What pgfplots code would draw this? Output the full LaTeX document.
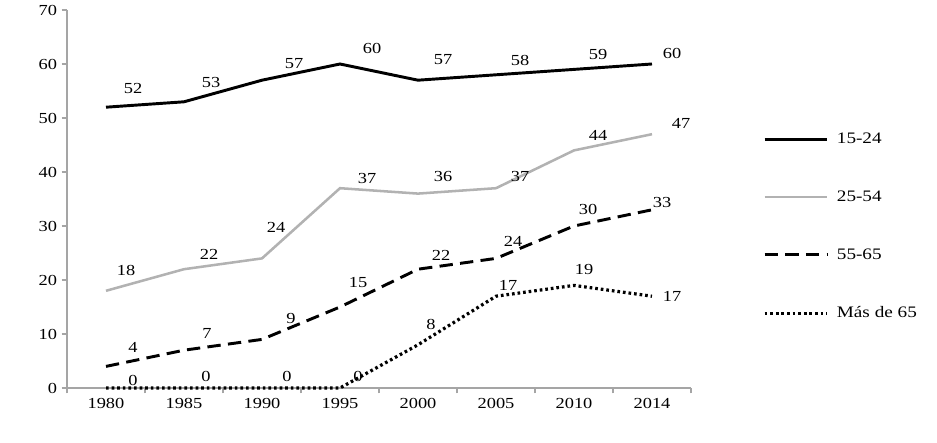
\documentclass[border=0pt]{standalone}
\usepackage{fontspec}
\setmainfont{Liberation Serif}[FakeStretch=1.2]
\usepackage{pgfplots}
\pgfplotsset{compat=1.18}
\usepackage{pgfplotstable}

\pgfplotstableread{
x y dx dy
0 52 27 -19
1 53 27 -19
2 57 32 -17
3 60 32 -16
4 57 25 -21
5 58 24 -14
6 59 24 -15
7 60 20 -11
}\tA
\pgfplotstableread{
x y dx dy
0 18 20 -20
1 22 25 -15
2 24 14 -31
3 37 27 -10
4 36 25 -17
5 37 24 -12
6 44 24 -15
7 47 29 -11
}\tB
\pgfplotstableread{
x y dx dy
0 4 27 -19
1 7 23 -17
2 9 29 -21
3 15 18 -24
4 22 23 -14
5 24 17 -17
6 30 14 -17
7 33 10 -7
}\tC
\pgfplotstableread{
x y dx dy
0 0 27 -8
1 0 22 -12
2 0 25 -12
3 0 18 -12
4 8 13 -20
5 17 12 -11
6 19 10 -16
7 17 20 0
}\tD

\definecolor{axgray}{RGB}{165,165,165}
\definecolor{lgray}{RGB}{178,178,178}

\pgfplotsset{
  lbl/.style={
    nodes near coords,
    visualization depends on={\thisrow{dx}\as\dx},
    visualization depends on={\thisrow{dy}\as\dy},
    every node near coord/.append style={anchor=center, text=black,
      font=\fontsize{11.5}{13}\selectfont,
      xshift={0.75pt*\dx}, yshift={0.75pt*(0-\dy)}},
  },
}

\begin{document}
\begin{tikzpicture}
\useasboundingbox (0,0) rectangle (702.75pt,331.5pt);
\begin{axis}[
  at={(50.25pt,40.5pt)}, anchor=south west,
  scale only axis, width=468pt, height=283.5pt,
  xmin=-0.5, xmax=7.5, ymin=0, ymax=70,
  axis lines*=left,
  axis line style={draw=axgray, line width=0.9pt},
  xtick={-0.5,0.5,...,7.5},
  x tick label as interval,
  xticklabels={1980,1985,1990,1995,2000,2005,2010,2014},
  ytick={0,10,...,70},
  tick align=outside, major tick length=4pt,
  tick style={draw=axgray, line width=0.8pt},
  /pgf/number format/assume math mode=true,
  tick label style={font=\fontsize{11.5}{13}\selectfont},
  clip=false,
  legend cell align=left,
  legend style={draw=none, fill=none, at={(1.115,0.683)}, anchor=north west,
    inner sep=0pt, row sep=30pt, font=\fontsize{12}{14}\selectfont},
  legend image code/.code={\draw[#1] (0pt,0pt) -- (47pt,0pt); \path (51pt,0pt);},
]
\addplot[black, line width=2.2pt, lbl] table[x=x,y=y] {\tA};
\addlegendentry{15-24}
\addplot[lgray, line width=1.9pt, lbl] table[x=x,y=y] {\tB};
\addlegendentry{25-54}
\addplot[black, line width=2.2pt, dash pattern=on 10pt off 5.5pt, lbl] table[x=x,y=y] {\tC};
\addlegendentry{55-65}
\addplot[black, line width=2.4pt, dash pattern=on 2pt off 2.2pt, lbl] table[x=x,y=y] {\tD};
\addlegendentry{Más de 65}
\end{axis}
\end{tikzpicture}
\end{document}
